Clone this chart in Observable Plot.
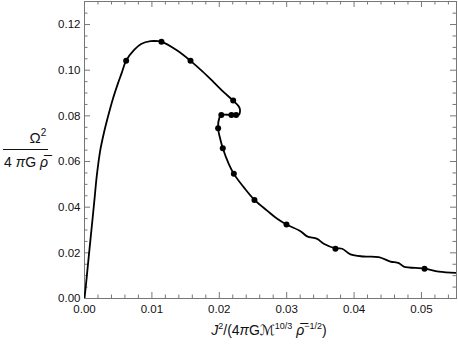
<!DOCTYPE html>
<html><head><meta charset="utf-8">
<script src="https://cdn.jsdelivr.net/npm/d3@7"></script>
<script src="https://cdn.jsdelivr.net/npm/@observablehq/plot@0.6"></script>
<style>body{margin:0;background:#fff} svg{display:block}</style>
</head><body><div id="chart"></div>
<script>
// Curve: J^2/(...) vs Omega^2/(4 pi G rho)
const curveJ = [0, 0.0003, 0.00064, 0.00114, 0.0015, 0.00183, 0.00233, 0.0029, 0.00346, 0.0042, 0.00494, 0.0055, 0.00618, 0.0074, 0.0084, 0.0098, 0.0110, 0.01142, 0.0137, 0.01573, 0.0175, 0.01919, 0.0207, 0.02206, 0.0228, 0.02305, 0.0229, 0.0225, 0.0218, 0.0203, 0.0200, 0.01983, 0.0202, 0.02052, 0.0214, 0.02216, 0.02364, 0.02522, 0.0271, 0.0286, 0.02997, 0.03205, 0.03304, 0.03452, 0.0355, 0.03724, 0.03823, 0.03947, 0.04144, 0.04367, 0.0454, 0.04664, 0.04738, 0.05045, 0.05257, 0.0553];
const curveW = [0, 0.0085, 0.0187, 0.0333, 0.0440, 0.0539, 0.0648, 0.0728, 0.0794, 0.0873, 0.0940, 0.0986, 0.1042, 0.1090, 0.1115, 0.1127, 0.1127, 0.1125, 0.1087, 0.1041, 0.0995, 0.0947, 0.0903, 0.0867, 0.0845, 0.0831, 0.0805, 0.0804, 0.0804, 0.0804, 0.0790, 0.0746, 0.0692, 0.0658, 0.0590, 0.0546, 0.0487, 0.0432, 0.0385, 0.0349, 0.0324, 0.0295, 0.0272, 0.0261, 0.0240, 0.0220, 0.0218, 0.0193, 0.0184, 0.0181, 0.0162, 0.0155, 0.0140, 0.0131, 0.0118, 0.0112];
// Marked points
const dotJ = [0.00618, 0.01142, 0.01573, 0.02206, 0.0225, 0.0218, 0.0203, 0.01983, 0.02052, 0.02216, 0.02522, 0.02997, 0.03724, 0.05045];
const dotW = [0.1042, 0.1125, 0.1041, 0.0867, 0.0804, 0.0804, 0.0804, 0.0746, 0.0658, 0.0546, 0.0432, 0.0324, 0.0218, 0.0130];
// Ticks
const xMajor = [0, 0.01, 0.02, 0.03, 0.04, 0.05];
const xLabels = ["0.00", "0.01", "0.02", "0.03", "0.04", "0.05"];
const xMinor = [0.002, 0.004, 0.006, 0.008, 0.012, 0.014, 0.016, 0.018, 0.022, 0.024, 0.026, 0.028, 0.032, 0.034, 0.036, 0.038, 0.042, 0.044, 0.046, 0.048, 0.052, 0.054];
const yMajor = [0, 0.02, 0.04, 0.06, 0.08, 0.10, 0.12];
const yLabels = ["0.00", "0.02", "0.04", "0.06", "0.08", "0.10", "0.12"];
const yMinor = [0.005, 0.01, 0.015, 0.025, 0.03, 0.035, 0.045, 0.05, 0.055, 0.065, 0.07, 0.075, 0.085, 0.09, 0.095, 0.105, 0.11, 0.115, 0.125];

const W = 458, H = 344, mL = 84, mR = 2, mT = 1, mB = 46;
const iW = W - mL - mR, iH = H - mT - mB;
const curve = curveJ.map((x, i) => ({x, y: curveW[i]}));
const dots = dotJ.map((x, i) => ({x, y: dotW[i]}));
const tickCol = "#777";
const font = "'Liberation Sans', Arial, sans-serif";

const plot = Plot.plot({
  width: W, height: H,
  marginLeft: mL, marginRight: mR, marginTop: mT, marginBottom: mB,
  style: {fontFamily: font, fontSize: "11.5px", color: "#111", background: "#fff"},
  x: {domain: [0, 0.0552]},
  y: {domain: [0, 0.1301]},
  marks: [
    Plot.ruleX(xMajor, {x: d => d, insetTop: iH - 6, stroke: tickCol}),
    Plot.ruleX(xMajor, {x: d => d, insetBottom: iH - 6, stroke: tickCol}),
    Plot.ruleX(xMinor, {x: d => d, insetTop: iH - 3.5, stroke: tickCol}),
    Plot.ruleX(xMinor, {x: d => d, insetBottom: iH - 3.5, stroke: tickCol}),
    Plot.ruleY(yMajor, {y: d => d, insetRight: iW - 6, stroke: tickCol}),
    Plot.ruleY(yMajor, {y: d => d, insetLeft: iW - 6, stroke: tickCol}),
    Plot.ruleY(yMinor, {y: d => d, insetRight: iW - 3.5, stroke: tickCol}),
    Plot.ruleY(yMinor, {y: d => d, insetLeft: iW - 3.5, stroke: tickCol}),
    Plot.frame({stroke: tickCol}),
    Plot.axisX({ticks: xMajor, tickSize: 0, tickPadding: 6, tickFormat: d => xLabels[xMajor.indexOf(d)], label: null}),
    Plot.axisY({ticks: yMajor, tickSize: 0, tickPadding: 4, tickFormat: d => yLabels[yMajor.findIndex(v => Math.abs(v - d) < 1e-9)], label: null}),
    Plot.line(curve, {x: "x", y: "y", stroke: "#000", strokeWidth: 1.8, curve: "catmull-rom", clip: true}),
    Plot.dot(dots, {x: "x", y: "y", r: 3, fill: "#000"})
  ]
});
document.getElementById("chart").append(plot);

const svg = d3.select(plot);
// x-axis label
const xl = svg.append("text")
  .attr("x", 269).attr("y", 335)
  .attr("text-anchor", "middle")
  .attr("font-family", font).attr("font-size", 14).attr("fill", "#111");
xl.append("tspan").attr("font-style", "italic").text("J");
xl.append("tspan").attr("font-size", 9).attr("dy", -6).text("2");
xl.append("tspan").attr("dy", 6).text("/(4");
xl.append("tspan").attr("font-style", "italic").text("π");
xl.append("tspan").text("G");
xl.append("tspan").attr("font-family", "'DejaVu Sans'").attr("font-style", "italic").text("ℳ");
xl.append("tspan").attr("font-size", 9).attr("dy", -6).text("10/3");
xl.append("tspan").attr("dy", 6).attr("font-style", "italic").text("\u00A0ρ\u0305");
xl.append("tspan").attr("font-size", 9).attr("dy", -6).text("−1/2");
xl.append("tspan").attr("dy", 6).text(")");

// y-axis label (fraction)
const yl = svg.append("g").attr("font-family", font).attr("fill", "#111");
const num = yl.append("text").attr("x", 38).attr("y", 143).attr("text-anchor", "middle").attr("font-size", 15);
num.append("tspan").text("Ω");
num.append("tspan").attr("font-size", 10).attr("dy", -7).text("2");
yl.append("line").attr("x1", 3).attr("x2", 48).attr("y1", 149.5).attr("y2", 149.5).attr("stroke", "#111").attr("stroke-width", 1);
const den = yl.append("text").attr("x", 26).attr("y", 167).attr("text-anchor", "middle").attr("font-size", 14);
den.append("tspan").text("4 ");
den.append("tspan").attr("font-style", "italic").text("π");
den.append("tspan").text("G ");
den.append("tspan").attr("font-style", "italic").text("ρ\u0305");
</script>
</body></html>
